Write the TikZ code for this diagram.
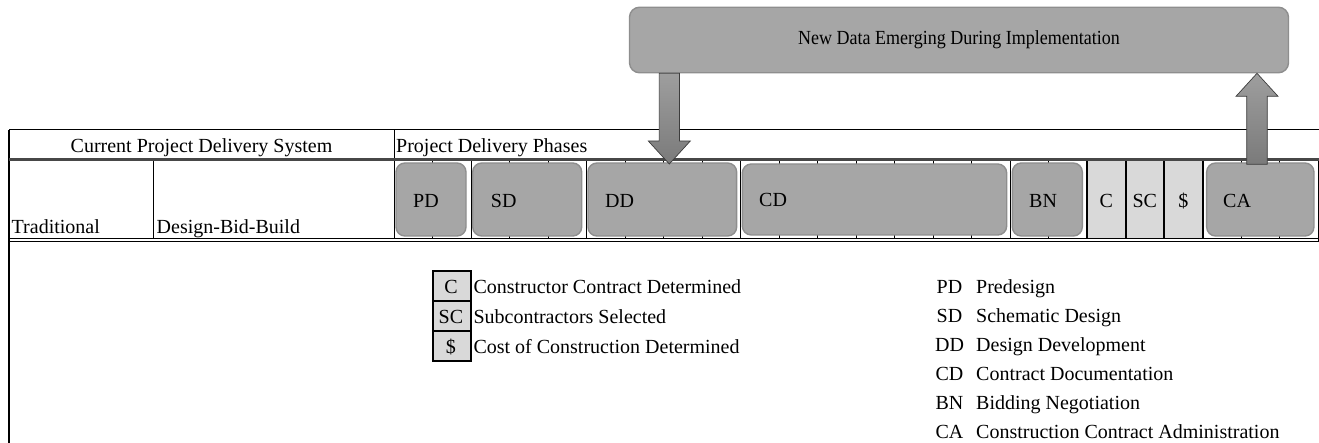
\documentclass[tikz,border=0pt]{standalone}
\usepackage{fontspec}
\setmainfont{Liberation Serif}
\usetikzlibrary{calc}
\definecolor{phasefill}{HTML}{A6A6A6}
\definecolor{phaseline}{HTML}{8E8E8E}
\definecolor{cellfill}{HTML}{D9D9D9}
\definecolor{headline}{HTML}{474747}
\definecolor{arrowline}{HTML}{3C3C3C}
\begin{document}
\begin{tikzpicture}[x=1pt,y=-1pt,
  every node/.style={font=\fontsize{20}{24}\selectfont, inner sep=0pt},
  lab/.style={anchor=base west},
  clab/.style={anchor=base},
  phasebox/.style={fill=phasefill, draw=phaseline, line width=1.4pt, rounded corners=9pt},
  legbox/.style={fill=cellfill, draw=black, line width=2pt},
  thin/.style={draw=black, line width=0.8pt},
  bigarrow/.style={top color=black!38, bottom color=black!52, draw=arrowline, line width=0.7pt, line join=miter}]
\useasboundingbox (0,0) rectangle (1319,443);

% ---- table frame ----
\draw[thin, line width=1pt] (9,130) -- (1319,130);
\draw[thin, line width=1.2pt] (9,130) -- (9,443);
\draw[thin] (394,130) -- (394,158);
\draw[thin] (153,161) -- (153,238.3);
% phase grid
\foreach \k in {0,...,24} {
  \draw[thin] ({394+38.5*\k},161) -- ({394+38.5*\k},238.3);
}
% light cells C, SC, $
\fill[cellfill] (1087,161) rectangle (1202.5,238.3);
\foreach \xx in {1087,1125.5,1164,1202.5} {
  \draw[black, line width=2pt] (\xx,160) -- (\xx,239);
}
\draw[thin, line width=1pt] (1318,161) -- (1318,241);
\draw[headline, line width=3pt] (9,159.5) -- (1319,159.5);
\draw[thin, line width=1pt] (9,238.3) -- (1319,238.3);
\draw[thin, line width=1pt] (9,241.2) -- (1319,241.2);

% ---- header texts ----
\node[clab] (hcur) at (201.5,152.5) {Current Project Delivery System};
\node[lab] (hphase) at (396,152.5) {Project Delivery Phases};
\node[lab] (trad) at (11.5,233.5) {Traditional};
\node[lab] (dbb) at (156.5,233.5) {Design-Bid-Build};

% ---- phase boxes ----
\node[phasebox, minimum width=70pt, minimum height=73pt] (pd) at (431,199.5) {};
\node[phasebox, minimum width=109pt, minimum height=73pt] (sd) at (527.2,199.5) {};
\node[phasebox, minimum width=148.7pt, minimum height=73pt] (dd) at (662.3,199.5) {};
\node[phasebox, minimum width=264.4pt, minimum height=71pt] (cd) at (874.5,199.5) {};
\node[phasebox, minimum width=70pt, minimum height=73pt] (bn) at (1047.3,199.5) {};
\node[phasebox, minimum width=107.3pt, minimum height=73pt] (ca) at (1260.3,199.5) {};

\node[lab] (pdt) at (413,208) {PD};
\node[lab] (sdt) at (490.7,208) {SD};
\node[lab] (ddt) at (605,208) {DD};
\node[lab] (cdt) at (759,207) {CD};
\node[lab] (bnt) at (1029,208) {BN};
\node[lab] (cat) at (1223,208) {CA};
\node[clab] (ct) at (1106.25,208) {C};
\node[clab] (sct) at (1144.75,208) {SC};
\node[clab] (dollart) at (1183.25,208) {\$};

% ---- big box ----
\node[phasebox, rounded corners=10pt, minimum width=659pt, minimum height=65.5pt] (big) at (959,40) {};
\node (bigt) at (big.center) {\scalebox{0.9}[1]{New Data Emerging During Implementation}};

% ---- arrows ----
\coordinate (a1e) at (669.3,164);
\coordinate (a2e) at (1257,73.3);
\draw[bigarrow, shift={(a1e)}] (0,0) -- (-21,-23) -- (-10.2,-23) -- (-10.2,-90.7) -- (10.2,-90.7) -- (10.2,-23) -- (21,-23) -- cycle;
\draw[bigarrow, shift={(a2e)}] (0,0) -- (21,23) -- (10.3,23) -- (10.3,91) -- (-10.3,91) -- (-10.3,23) -- (-21,23) -- cycle;

% ---- left legend ----
\node[legbox, minimum width=38.5pt, minimum height=30pt, anchor=north west] (lc) at (431.7,270) {};
\node[legbox, minimum width=38.5pt, minimum height=30pt, anchor=north west] (lsc) at (431.7,300) {};
\node[legbox, minimum width=38.5pt, minimum height=30pt, anchor=north west] (ld) at (431.7,330) {};
\node[clab] (lct) at (450.95,293.3) {C};
\node[clab] (lsct) at (450.95,323.3) {SC};
\node[clab] (ldt) at (450.95,353.3) {\$};
\node[lab] (lcd) at (473.3,293.3) {Constructor Contract Determined};
\node[lab] (lscd) at (473.3,323.3) {Subcontractors Selected};
\node[lab] (ldd) at (473.3,353.3) {Cost of Construction Determined};

% ---- right legend ----
\node[clab] (rpd) at (949.5,293.4) {PD};
\node[clab] (rsd) at (949.5,322.4) {SD};
\node[clab] (rdd) at (949.5,351.4) {DD};
\node[clab] (rcd) at (949.5,380.4) {CD};
\node[clab] (rbn) at (949.5,409.4) {BN};
\node[clab] (rca) at (949.5,438.4) {CA};
\node[lab] (rpdd) at (976,293.4) {Predesign};
\node[lab] (rsdd) at (976,322.4) {Schematic Design};
\node[lab] (rddd) at (976,351.4) {Design Development};
\node[lab] (rcdd) at (976,380.4) {Contract Documentation};
\node[lab] (rbnd) at (976,409.4) {Bidding Negotiation};
\node[lab] (rcad) at (976,438.4) {Construction Contract Administration};
\end{tikzpicture}
\end{document}
